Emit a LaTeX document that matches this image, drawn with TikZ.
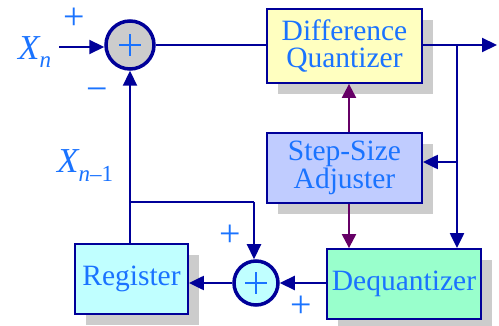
\documentclass[tikz,border=0pt]{standalone}
\usepackage{fontspec}
\setmainfont{Liberation Serif}
\usetikzlibrary{arrows.meta,shadows}
\definecolor{navy}{RGB}{0,0,153}
\definecolor{txtblue}{RGB}{26,115,255}
\definecolor{plum}{RGB}{102,0,102}
\definecolor{shgray}{RGB}{204,204,204}
\definecolor{dqfill}{RGB}{255,255,192}
\definecolor{ssfill}{RGB}{192,204,255}
\definecolor{deqfill}{RGB}{153,255,204}
\definecolor{regfill}{RGB}{192,255,255}
\tikzset{
  blk/.style={draw=navy, line width=1.8pt, inner sep=0pt, align=center,
    text=txtblue, font=\fontsize{29.5}{27.5}\selectfont,
    drop shadow={shadow xshift=11pt, shadow yshift=-11pt, fill=shgray, opacity=1}},
  sumc/.style={circle, draw=navy, line width=3.5pt, inner sep=0pt},
  conn/.style={draw=navy, line width=2.2pt, -{Triangle[length=15pt,width=14pt]}},
  line/.style={draw=navy, line width=2.2pt},
  pconn/.style={draw=plum, line width=2.2pt, -{Triangle[length=14pt,width=14pt]}},
  lbl/.style={text=txtblue, inner sep=0pt, font=\fontsize{38}{38}\selectfont},
  xlbl/.style={text=txtblue, inner sep=0pt, font=\fontsize{35}{35}\selectfont},
  pl/.style={draw=txtblue, line width=2.6pt}
}
\begin{document}
\begin{tikzpicture}[x=1pt,y=-1pt]
\useasboundingbox (0,0) rectangle (499,326);
% blocks
\node[blk, fill=dqfill, minimum width=155pt, minimum height=74pt] (dq) at (344.5,46) {Difference\\Quantizer};
\node[blk, fill=ssfill, minimum width=155pt, minimum height=70pt] (ssa) at (344.5,168) {Step-Size\\Adjuster};
\node[blk, fill=deqfill, minimum width=154pt, minimum height=70pt] (deq) at (404,284) {Dequantizer};
\node[blk, fill=regfill, minimum width=113pt, minimum height=70pt] (reg) at (131.5,279) {Register};
% summers
\node[sumc, fill=shgray, minimum size=48pt] (s1) at (130,45) {};
\node[sumc, fill=regfill, minimum size=44pt] (s2) at (256,283) {};
\draw[pl] ([xshift=-11pt]s1.center) -- ([xshift=11pt]s1.center);
\draw[pl] ([yshift=-11pt]s1.center) -- ([yshift=11pt]s1.center);
\draw[pl] ([xshift=-11pt]s2.center) -- ([xshift=11pt]s2.center);
\draw[pl] ([yshift=-11pt]s2.center) -- ([yshift=11pt]s2.center);
% coordinates
\coordinate (xin) at (59,47);
\coordinate (out) at (497,45);
\coordinate (br) at (457,45);
\coordinate (br2) at (457,162);
\coordinate (j1) at (130,202);
\coordinate (j2) at (254,202);
\coordinate (pa) at (349,0);
% connectors
\draw[conn] (xin) -- (xin -| s1.west);
\draw[line] (s1.east) -- (s1.east -| dq.west);
\draw[conn] (dq.east |- out) -- (out);
\draw[conn] (br) -- (br |- deq.north);
\draw[conn] (br2) -- (br2 -| ssa.east);
\draw[pconn] (pa |- ssa.north) -- (pa |- dq.south);
\draw[pconn] (pa |- ssa.south) -- (pa |- deq.north);
\draw[conn] (deq.west |- s2) -- (s2.east);
\draw[conn] (s2.west) -- (s2.west -| reg.east);
\draw[conn] (reg.north -| j1) -- (s1.south);
\draw[line] (j1) -- (j2);
\draw[conn] (j2) -- (j2 |- s2.north);
% labels
\node[lbl] (p1) at (74,19) {+};
\node[lbl] (m1) at (97,95) {−};
\node[lbl] (p2) at (230,236) {+};
\node[lbl] (p3) at (301,307) {+};
\node[xlbl, anchor=base west] (xn) at (18,60) {\itshape X\raisebox{-8pt}{\fontsize{23}{23}\selectfont n}};
\node[xlbl, anchor=base west] (xn1) at (57,173) {\itshape X\raisebox{-9pt}{\fontsize{23}{23}\selectfont n\upshape\textendash1}};
\end{tikzpicture}
\end{document}
